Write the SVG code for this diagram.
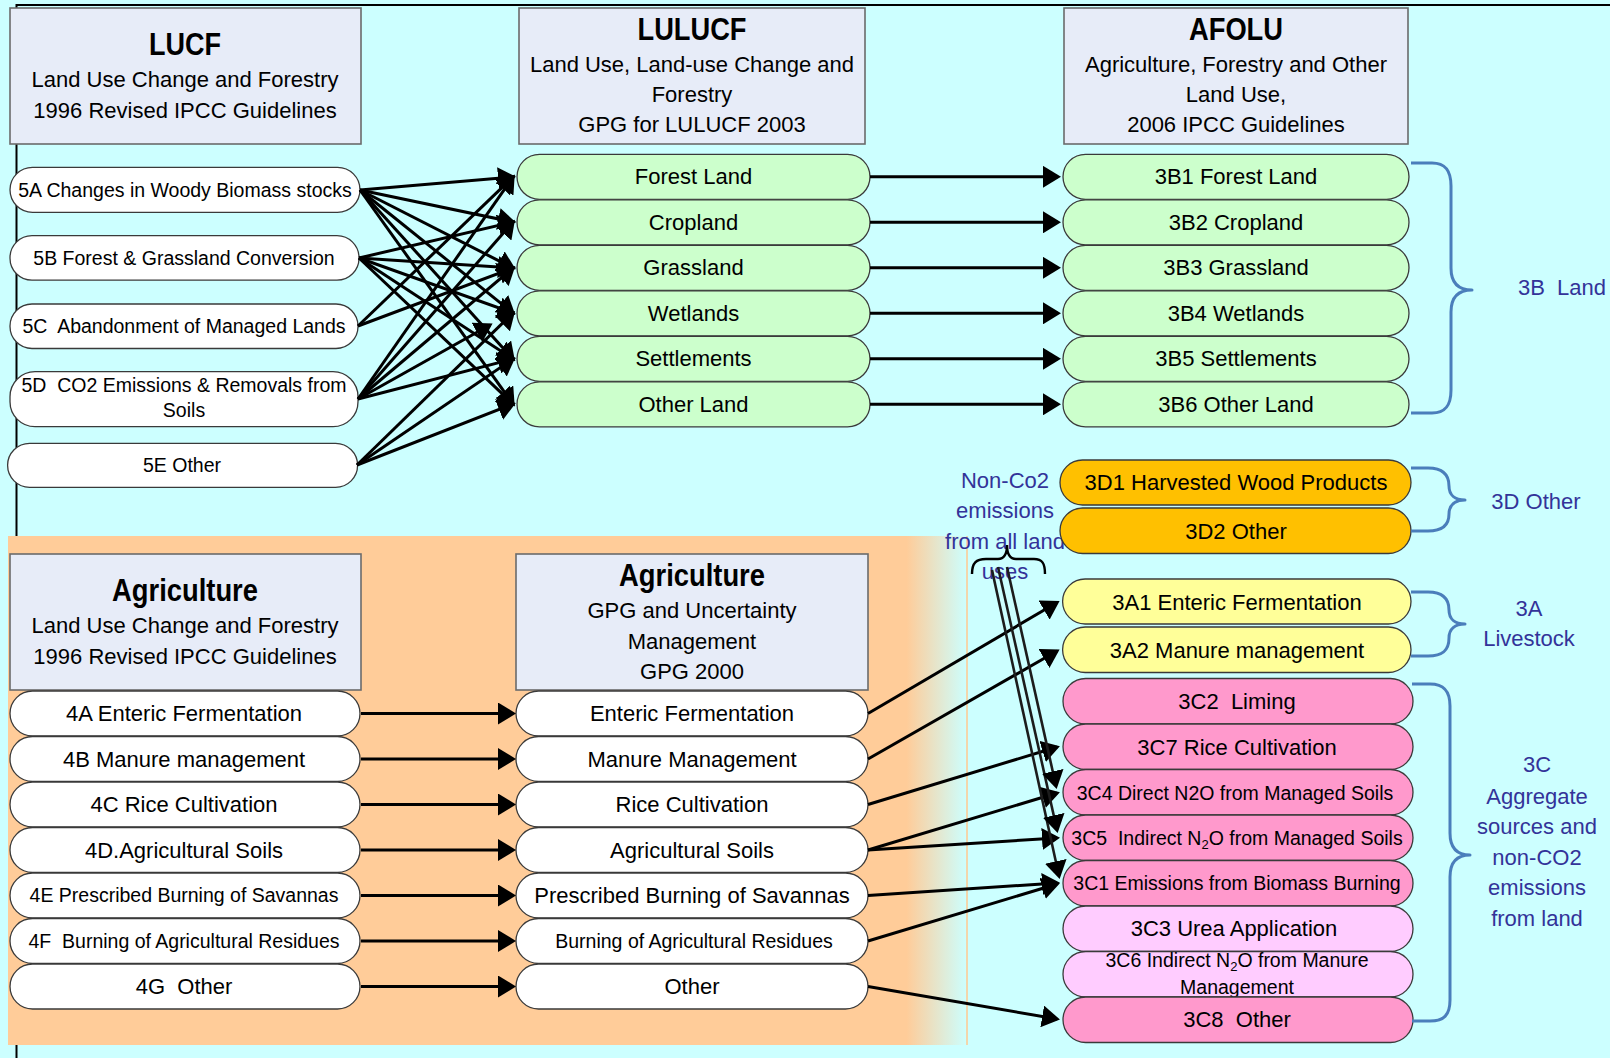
<svg xmlns="http://www.w3.org/2000/svg" width="1610" height="1058" viewBox="0 0 1610 1058">
<defs>
<style>
text{font-family:"Liberation Sans",Arial,Helvetica,sans-serif;text-anchor:middle;fill:#000;white-space:pre}
.f22{font-size:22px}
.f19{font-size:19.5px}
.hb{font-size:31px;font-weight:bold}
.hdr{fill:#E7ECF8;stroke:#6b6b6b;stroke-width:1.6}
.pl{stroke:#3a3a3a;stroke-width:1.3}
.g{fill:#CCFFCC}.w{fill:#FFFFFF}.o{fill:#FFC000}.y{fill:#FFFF99}.p{fill:#FF99CC}.lp{fill:#FFCCFF}
.lb{fill:#333399;font-size:22px}
.br{fill:none;stroke:#4A7EBB;stroke-width:3;stroke-linejoin:round}
.c{fill:none;stroke:#000;stroke-width:3;marker-end:url(#ah)}
.c2{fill:none;stroke:#1c1c1c;stroke-width:2.6;marker-end:url(#ah)}
</style>
<marker id="ah" viewBox="0 0 18 22" refX="15" refY="11" markerWidth="18" markerHeight="22" markerUnits="userSpaceOnUse" orient="auto"><path d="M0,0L18,11L0,22z" fill="#000"/></marker>
<linearGradient id="og" gradientUnits="userSpaceOnUse" x1="8" y1="0" x2="967" y2="0">
<stop offset="0" stop-color="#FFCC99"/><stop offset="0.937" stop-color="#FFCC99"/><stop offset="1" stop-color="#CCFFFF"/>
</linearGradient>
</defs>
<rect x="0" y="0" width="1610" height="1058" fill="#CCFFFF"/>
<g id="frame">
<line x1="16.5" y1="5" x2="1610" y2="5" stroke="#000" stroke-width="2.2"/>
<line x1="16.5" y1="4" x2="16.5" y2="1058" stroke="#000" stroke-width="2"/>
</g>
<g id="agri-zone">
<rect x="8" y="536" width="959" height="509" fill="url(#og)"/>
<line x1="967" y1="536" x2="967" y2="1045" stroke="#FFC890" stroke-width="1.5"/>
</g>
<g id="non-co2-label">
<text class="lb" x="1005" y="488">Non-Co2</text>
<text class="lb" x="1005" y="518">emissions</text>
<text class="lb" x="1005" y="549">from all land</text>
<text class="lb" x="1005" y="579">uses</text>
<path d="M972,574 C972,563 976,559 986,559 L998,559 C1004,559 1007,555 1007,545 C1007,555 1010,559 1016,559 L1034,559 C1042,559 1045,563 1045,574" fill="none" stroke="#000" stroke-width="2.4"/>
</g>

<!-- header boxes -->
<g id="h-lucf"><rect class="hdr" x="10" y="8" width="351" height="136"/>
<text class="hb" x="185" y="55" textLength="72" lengthAdjust="spacingAndGlyphs">LUCF</text>
<text class="f22" x="185" y="87">Land Use Change and Forestry</text>
<text class="f22" x="185" y="118">1996 Revised IPCC Guidelines</text></g>
<g id="h-lulucf"><rect class="hdr" x="519" y="8" width="346" height="136"/>
<text class="hb" x="692" y="40" textLength="109" lengthAdjust="spacingAndGlyphs">LULUCF</text>
<text class="f22" x="692" y="72">Land Use, Land-use Change and</text>
<text class="f22" x="692" y="102">Forestry</text>
<text class="f22" x="692" y="132">GPG for LULUCF 2003</text></g>
<g id="h-afolu"><rect class="hdr" x="1064" y="8" width="344" height="136"/>
<text class="hb" x="1236" y="40" textLength="94" lengthAdjust="spacingAndGlyphs">AFOLU</text>
<text class="f22" x="1236" y="72">Agriculture, Forestry and Other</text>
<text class="f22" x="1236" y="102">Land Use,</text>
<text class="f22" x="1236" y="132">2006 IPCC Guidelines</text></g>
<g id="h-agri-1996"><rect class="hdr" x="10" y="554" width="351" height="136"/>
<text class="hb" x="185" y="601" textLength="146" lengthAdjust="spacingAndGlyphs">Agriculture</text>
<text class="f22" x="185" y="633">Land Use Change and Forestry</text>
<text class="f22" x="185" y="664">1996 Revised IPCC Guidelines</text></g>
<g id="h-agri-gpg"><rect class="hdr" x="516" y="554" width="352" height="136"/>
<text class="hb" x="692" y="586" textLength="146" lengthAdjust="spacingAndGlyphs">Agriculture</text>
<text class="f22" x="692" y="618">GPG and Uncertainty</text>
<text class="f22" x="692" y="649">Management</text>
<text class="f22" x="692" y="679">GPG 2000</text></g>

<!-- LUCF items -->
<g id="n-5a"><rect class="pl w" x="10" y="167.3" width="350" height="45" rx="22.5"/><text class="f19" x="185" y="197">5A Changes in Woody Biomass stocks</text></g>
<g id="n-5b"><rect class="pl w" x="10" y="235.7" width="349" height="44.5" rx="22"/><text class="f19" x="184" y="265">5B Forest &amp; Grassland Conversion</text></g>
<g id="n-5c"><rect class="pl w" x="10" y="304" width="348" height="44.5" rx="22"/><text class="f19" x="184" y="333">5C  Abandonment of Managed Lands</text></g>
<g id="n-5d"><rect class="pl w" x="10" y="371.7" width="348" height="55" rx="25"/><text class="f19" x="184" y="392">5D  CO2 Emissions &amp; Removals from</text><text class="f19" x="184" y="417">Soils</text></g>
<g id="n-5e"><rect class="pl w" x="7.6" y="443.3" width="350" height="44" rx="22"/><text class="f19" x="182" y="472">5E Other</text></g>

<!-- LULUCF items -->
<g id="n-forest"><rect class="pl g" x="517" y="154.3" width="353" height="45" rx="22.5"/><text class="f22" x="693.5" y="184">Forest Land</text></g>
<g id="n-crop"><rect class="pl g" x="517" y="199.8" width="353" height="45" rx="22.5"/><text class="f22" x="693.5" y="229.5">Cropland</text></g>
<g id="n-grass"><rect class="pl g" x="517" y="245.3" width="353" height="45" rx="22.5"/><text class="f22" x="693.5" y="275">Grassland</text></g>
<g id="n-wet"><rect class="pl g" x="517" y="290.8" width="353" height="45" rx="22.5"/><text class="f22" x="693.5" y="320.5">Wetlands</text></g>
<g id="n-settle"><rect class="pl g" x="517" y="336.3" width="353" height="45" rx="22.5"/><text class="f22" x="693.5" y="366">Settlements</text></g>
<g id="n-otherland"><rect class="pl g" x="517" y="381.8" width="353" height="45" rx="22.5"/><text class="f22" x="693.5" y="411.5">Other Land</text></g>

<!-- AFOLU 3B -->
<g id="n-3b1"><rect class="pl g" x="1063" y="154.3" width="346" height="45" rx="22.5"/><text class="f22" x="1236" y="184">3B1 Forest Land</text></g>
<g id="n-3b2"><rect class="pl g" x="1063" y="199.8" width="346" height="45" rx="22.5"/><text class="f22" x="1236" y="229.5">3B2 Cropland</text></g>
<g id="n-3b3"><rect class="pl g" x="1063" y="245.3" width="346" height="45" rx="22.5"/><text class="f22" x="1236" y="275">3B3 Grassland</text></g>
<g id="n-3b4"><rect class="pl g" x="1063" y="290.8" width="346" height="45" rx="22.5"/><text class="f22" x="1236" y="320.5">3B4 Wetlands</text></g>
<g id="n-3b5"><rect class="pl g" x="1063" y="336.3" width="346" height="45" rx="22.5"/><text class="f22" x="1236" y="366">3B5 Settlements</text></g>
<g id="n-3b6"><rect class="pl g" x="1063" y="381.8" width="346" height="45" rx="22.5"/><text class="f22" x="1236" y="411.5">3B6 Other Land</text></g>

<!-- 3D -->
<g id="n-3d1"><rect class="pl o" x="1060" y="460" width="351" height="45" rx="22.5"/><text class="f22" x="1236" y="490">3D1 Harvested Wood Products</text></g>
<g id="n-3d2"><rect class="pl o" x="1060" y="508" width="351" height="45.5" rx="22.7"/><text class="f22" x="1236" y="538.5">3D2 Other</text></g>

<!-- 3A -->
<g id="n-3a1"><rect class="pl y" x="1062.6" y="579" width="348.4" height="45" rx="22.5"/><text class="f22" x="1237" y="609.5">3A1 Enteric Fermentation</text></g>
<g id="n-3a2"><rect class="pl y" x="1062.6" y="627" width="348.4" height="45.5" rx="22.7"/><text class="f22" x="1237" y="658">3A2 Manure management</text></g>

<!-- 3C -->
<g id="n-3c2"><rect class="pl p" x="1063" y="678.5" width="350" height="45.5" rx="22.7"/><text class="f22" x="1237" y="709">3C2  Liming</text></g>
<g id="n-3c7"><rect class="pl p" x="1063" y="724" width="350" height="45.5" rx="22.7"/><text class="f22" x="1237" y="755">3C7 Rice Cultivation</text></g>
<g id="n-3c4"><rect class="pl p" x="1063" y="769.5" width="350" height="45.5" rx="22.7"/><text class="f19" x="1235" y="799.5">3C4 Direct N2O from Managed Soils</text></g>
<g id="n-3c5"><rect class="pl p" x="1063" y="815" width="350" height="45.5" rx="22.7"/><text class="f19" x="1237" y="845">3C5  Indirect N<tspan font-size="13" dy="4">2</tspan><tspan dy="-4">O from Managed Soils</tspan></text></g>
<g id="n-3c1"><rect class="pl p" x="1063" y="860.5" width="350" height="45.5" rx="22.7"/><text class="f19" x="1237" y="890">3C1 Emissions from Biomass Burning</text></g>
<g id="n-3c3"><rect class="pl lp" x="1063" y="906" width="350" height="45.5" rx="22.7"/><text class="f22" x="1234" y="936">3C3 Urea Application</text></g>
<g id="n-3c6"><rect class="pl lp" x="1063" y="951.5" width="350" height="45.5" rx="22.7"/><text class="f19" x="1237" y="967">3C6 Indirect N<tspan font-size="13" dy="4">2</tspan><tspan dy="-4">O from Manure</tspan></text><text class="f19" x="1237" y="993.5">Management</text></g>
<g id="n-3c8"><rect class="pl p" x="1063" y="997" width="350" height="45.5" rx="22.7"/><text class="f22" x="1237" y="1026.5">3C8  Other</text></g>

<!-- Agriculture 1996 items -->
<g id="n-4a"><rect class="pl w" x="10" y="691" width="350" height="45" rx="22.5"/><text class="f22" x="184" y="721">4A Enteric Fermentation</text></g>
<g id="n-4b"><rect class="pl w" x="10" y="736.5" width="350" height="45" rx="22.5"/><text class="f22" x="184" y="766.5">4B Manure management</text></g>
<g id="n-4c"><rect class="pl w" x="10" y="782" width="350" height="45" rx="22.5"/><text class="f22" x="184" y="812">4C Rice Cultivation</text></g>
<g id="n-4d"><rect class="pl w" x="10" y="827.5" width="350" height="45" rx="22.5"/><text class="f22" x="184" y="857.5">4D.Agricultural Soils</text></g>
<g id="n-4e"><rect class="pl w" x="10" y="873" width="350" height="45" rx="22.5"/><text class="f19" x="184" y="902">4E Prescribed Burning of Savannas</text></g>
<g id="n-4f"><rect class="pl w" x="10" y="918.5" width="350" height="45" rx="22.5"/><text class="f19" x="184" y="947.5">4F  Burning of Agricultural Residues</text></g>
<g id="n-4g"><rect class="pl w" x="10" y="964" width="350" height="45" rx="22.5"/><text class="f22" x="184" y="994">4G  Other</text></g>

<!-- Agriculture GPG items -->
<g id="n-ent"><rect class="pl w" x="516" y="691" width="352" height="45" rx="22.5"/><text class="f22" x="692" y="721">Enteric Fermentation</text></g>
<g id="n-man"><rect class="pl w" x="516" y="736.5" width="352" height="45" rx="22.5"/><text class="f22" x="692" y="766.5">Manure Management</text></g>
<g id="n-rice"><rect class="pl w" x="516" y="782" width="352" height="45" rx="22.5"/><text class="f22" x="692" y="812">Rice Cultivation</text></g>
<g id="n-soils"><rect class="pl w" x="516" y="827.5" width="352" height="45" rx="22.5"/><text class="f22" x="692" y="857.5">Agricultural Soils</text></g>
<g id="n-sav"><rect class="pl w" x="516" y="873" width="352" height="45" rx="22.5"/><text class="f22" x="692" y="903">Prescribed Burning of Savannas</text></g>
<g id="n-res"><rect class="pl w" x="516" y="918.5" width="352" height="45" rx="22.5"/><text class="f19" x="694" y="947.5">Burning of Agricultural Residues</text></g>
<g id="n-oth"><rect class="pl w" x="516" y="964" width="352" height="45" rx="22.5"/><text class="f22" x="692" y="994">Other</text></g>

<!-- braces and group labels -->
<g id="grp-3b"><path class="br" d="M1411,163 L1432,163 C1445,163 1451,170 1451,186 L1451,268 C1451,283 1458,290 1472,290 C1458,290 1451,297 1451,312 L1451,390 C1451,406 1445,413 1432,413 L1411,413"/><text class="lb" x="1562" y="295">3B  Land</text></g>
<g id="grp-3d"><path class="br" d="M1411,468 L1428,468 C1443,468 1449,475 1449,486 C1449,495 1455,500 1465,500 C1455,500 1449,505 1449,514 C1449,525 1443,531 1428,531 L1411,531"/><text class="lb" x="1536" y="509">3D Other</text></g>
<g id="grp-3a"><path class="br" d="M1411,592 L1428,592 C1443,592 1449,599 1449,610 C1449,619 1455,624 1465,624 C1455,624 1449,629 1449,638 C1449,650 1443,656 1428,656 L1411,656"/><text class="lb" x="1529" y="615.5">3A</text><text class="lb" x="1529" y="646">Livestock</text></g>
<g id="grp-3c"><path class="br" d="M1412,684 L1430,684 C1444,684 1450,691 1450,706 L1450,833 C1450,848 1457,855 1470,855 C1457,855 1450,862 1450,877 L1450,1000 C1450,1015 1444,1021 1430,1021 L1412,1021"/>
<text class="lb" x="1537" y="772">3C</text><text class="lb" x="1537" y="803.5">Aggregate</text><text class="lb" x="1537" y="834">sources and</text><text class="lb" x="1537" y="864.5">non-CO2</text><text class="lb" x="1537" y="895">emissions</text><text class="lb" x="1537" y="925.5">from land</text></g>

<!-- connectors -->
<g id="connectors">
<path class="c" d="M360,190L513,177"/>
<path class="c" d="M360,190L513,222"/>
<path class="c" d="M360,190L513,268"/>
<path class="c" d="M360,190L513,313"/>
<path class="c" d="M360,190L513,359"/>
<path class="c" d="M360,190L513,404"/>
<path class="c" d="M359,258L513,222"/>
<path class="c" d="M359,258L513,268"/>
<path class="c" d="M359,258L513,313"/>
<path class="c" d="M359,258L513,359"/>
<path class="c" d="M359,258L513,404"/>
<path class="c" d="M358,326L513,177"/>
<path class="c" d="M358,326L513,268"/>
<path class="c" d="M358,399L513,177"/>
<path class="c" d="M358,399L513,222"/>
<path class="c" d="M358,399L513,268"/>
<path class="c" d="M358,399L490,325"/>
<path class="c" d="M358,399L513,359"/>
<path class="c" d="M357,465L513,313"/>
<path class="c" d="M357,465L513,359"/>
<path class="c" d="M357,465L513,404"/>

<path class="c" d="M870,176.8L1058,176.8"/>
<path class="c" d="M870,222.3L1058,222.3"/>
<path class="c" d="M870,267.8L1058,267.8"/>
<path class="c" d="M870,313.3L1058,313.3"/>
<path class="c" d="M870,358.8L1058,358.8"/>
<path class="c" d="M870,404.3L1058,404.3"/>

<path class="c" d="M361,713.5L513,713.5"/>
<path class="c" d="M361,759L513,759"/>
<path class="c" d="M361,804.5L513,804.5"/>
<path class="c" d="M361,850L513,850"/>
<path class="c" d="M361,895.5L513,895.5"/>
<path class="c" d="M361,941L513,941"/>
<path class="c" d="M361,986.5L513,986.5"/>

<path class="c" d="M868,713.5L1057,602.5"/>
<path class="c" d="M868,759L1057,651"/>
<path class="c" d="M868,804.5L1057,747"/>
<path class="c" d="M868,850L1057,793"/>
<path class="c" d="M868,850L1057,838"/>
<path class="c" d="M868,895.5L1057,883"/>
<path class="c" d="M868,941L1057,884"/>
<path class="c" d="M868,986.5L1057,1019"/>

<path class="c2" d="M992,570L1059,876"/>
<path class="c2" d="M998,567L1057,830"/>
<path class="c2" d="M1007,567L1056,786"/>
</g>
</svg>
